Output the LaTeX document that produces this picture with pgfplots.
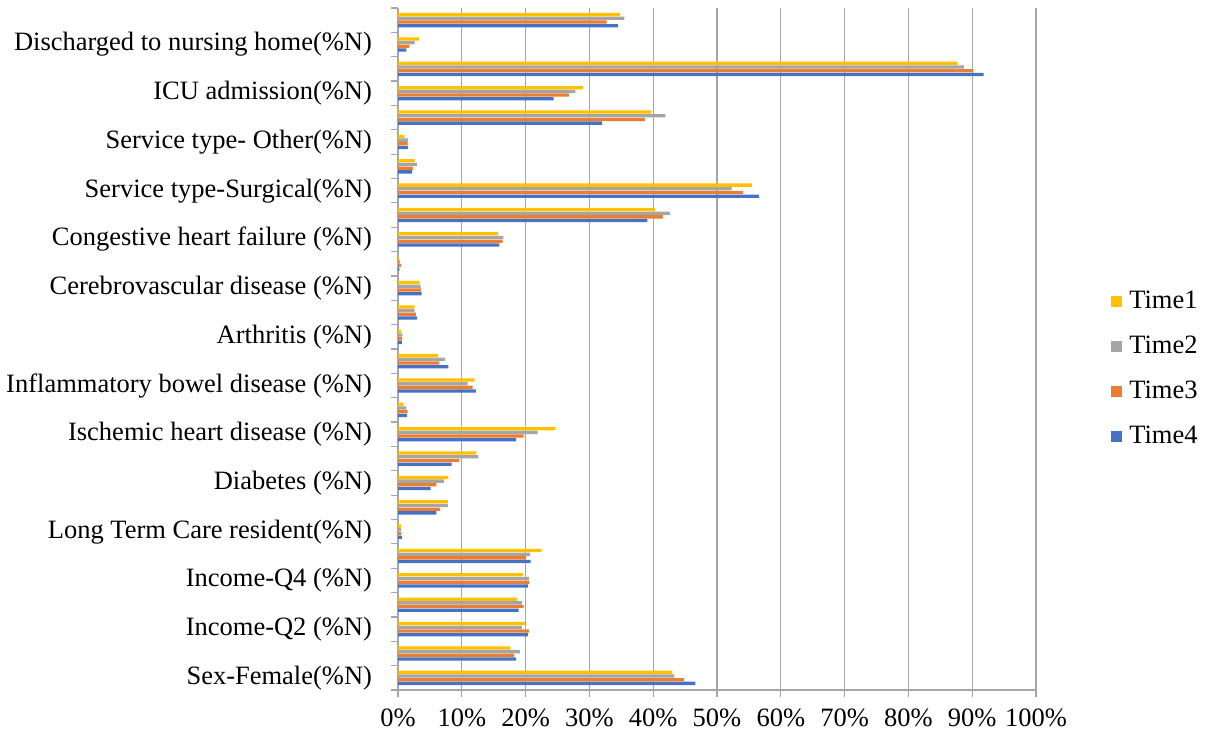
\documentclass[border=0pt]{standalone}
\usepackage{pgfplots}
\pgfplotsset{compat=1.18}
\usepackage{pgfplotstable}
\usepackage{fontspec}
\setmainfont{Liberation Serif}
\definecolor{tA}{HTML}{FFC000}
\definecolor{tB}{HTML}{A5A5A5}
\definecolor{tC}{HTML}{ED7D31}
\definecolor{tD}{HTML}{4472C4}
\definecolor{gridc}{HTML}{A6A6A6}
\pgfplotstableread{
idx t1 t2 t3 t4
0 43.0 43.3 44.8 46.6
1 17.6 19.1 18.2 18.5
2 19.9 19.4 20.5 20.4
3 18.7 19.4 19.7 18.9
4 19.6 20.5 20.6 20.4
5 22.5 20.7 20.1 20.8
6 0.5 0.5 0.5 0.6
7 7.8 7.8 6.6 6.0
8 7.9 7.2 6.0 5.1
9 12.3 12.6 9.6 8.4
10 24.7 21.9 19.7 18.5
11 0.9 1.3 1.5 1.4
12 12.0 10.9 11.7 12.2
13 6.3 7.4 6.5 7.9
14 0.5 0.7 0.6 0.6
15 2.6 2.6 2.8 3.0
16 3.4 3.55 3.6 3.7
17 0.15 0.35 0.5 0.2
18 15.7 16.5 16.4 15.9
19 40.3 42.6 41.5 39.1
20 55.5 52.3 54.1 56.6
21 2.6 3.0 2.35 2.2
22 1.0 1.6 1.5 1.6
23 39.7 41.9 38.7 32.0
24 29.0 27.8 26.8 24.4
25 87.7 88.7 90.2 91.8
26 3.3 2.6 1.8 1.3
27 34.8 35.5 32.7 34.5
}\datatab
\begin{document}
\fontsize{26.5}{30}\selectfont
\begin{tikzpicture}[x=1pt,y=1pt]
\path[use as bounding box] (0,0) rectangle (1206,735);
\begin{axis}[
  at={(398pt,45pt)}, anchor=south west,
  scale only axis, width=638pt, height=682pt,
  xbar=0.4pt, bar width=3.3pt,
  xmin=0, xmax=100, ymin=-0.5, ymax=27.5,
  axis x line*=bottom, axis y line*=left,
  axis line style={gridc, line width=1.2pt},
  xtick={0,10,...,100},
  xticklabels={0\%,10\%,20\%,30\%,40\%,50\%,60\%,70\%,80\%,90\%,100\%},
  xmajorgrids, major grid style={gridc, line width=1.2pt},
  tick align=outside, major tick length=7pt,
  tick style={gridc, line width=1.2pt},
  x tick label style={font=\fontsize{26.5}{30}\selectfont, yshift=-3pt},
  ytick={-0.5,0.5,...,27.5}, yticklabels={},
  extra y ticks={0,2,...,26},
  extra y tick labels={Sex-Female(\%N),Income-Q2 (\%N),Income-Q4 (\%N),Long Term Care resident(\%N),Diabetes (\%N),Ischemic heart disease (\%N),Inflammatory bowel disease (\%N),Arthritis (\%N),Cerebrovascular disease (\%N),Congestive heart failure (\%N),Service type-Surgical(\%N),Service type- Other(\%N),ICU admission(\%N),Discharged to nursing home(\%N)},
  extra y tick style={major tick length=0pt, tick style={draw=none}},
  y tick label style={font=\fontsize{26.5}{30}\selectfont, xshift=-17pt},
  legend style={draw=none, fill=none, at={(1.113,0.47)}, anchor=west,
    font=\fontsize{26.5}{30}\selectfont, row sep=19.5pt,
    legend cell align=left},
  legend image code/.code={\fill[#1] (0pt,-5.5pt) rectangle (11pt,5.5pt); \path (16pt,0pt);},
  reverse legend,
]
\addplot[fill=tD, draw=none] table[x=t4, y=idx] {\datatab};
\addplot[fill=tC, draw=none] table[x=t3, y=idx] {\datatab};
\addplot[fill=tB, draw=none] table[x=t2, y=idx] {\datatab};
\addplot[fill=tA, draw=none] table[x=t1, y=idx] {\datatab};
\legend{Time4,Time3,Time2,Time1}
\end{axis}
\end{tikzpicture}
\end{document}
